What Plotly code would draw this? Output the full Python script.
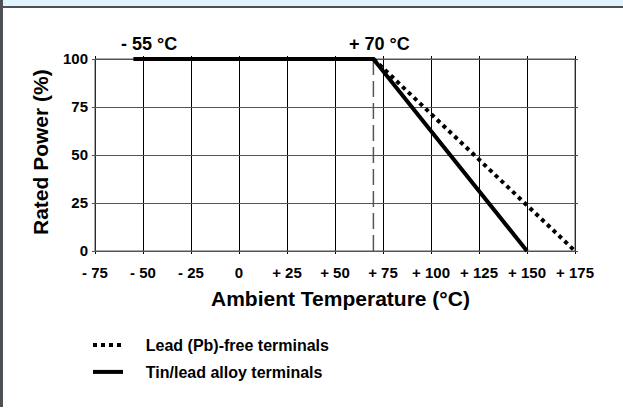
import plotly.graph_objects as go

# ---- data ----
tick_vals_x = [-75, -50, -25, 0, 25, 50, 75, 100, 125, 150, 175]
tick_text_x = ["- 75", "- 50", "- 25", "0", "+ 25", "+ 50", "+ 75", "+ 100", "+ 125", "+ 150", "+ 175"]
tick_vals_y = [0, 25, 50, 75, 100]
tick_text_y = ["0", "25", "50", "75", "100"]

temp_pbfree = [70, 175]
power_pbfree = [100, 0]
temp_snpb = [-55, 70, 150]
power_snpb = [100, 100, 0]
knee_temp = 70

W, H = 623, 408
L, R, T, B = 92, 45, 56, 154
pad_x = 1.5625
pad_y = 1.5625
FONT = "Liberation Sans, Arial, sans-serif"
NB = "\u00a0" * 4

def px(xp):
    return (xp - L) / (W - L - R)

def py(yp):
    return (H - B - yp) / (H - T - B)

fig = go.Figure()
fig.add_trace(go.Scatter(
    x=temp_pbfree, y=power_pbfree, mode="lines",
    line=dict(color="black", width=4, dash="dot"),
    name=NB + "<b>Lead (Pb)-free terminals</b>", legend="legend",
))
fig.add_trace(go.Scatter(
    x=temp_snpb, y=power_snpb, mode="lines",
    line=dict(color="black", width=4),
    name=NB + "<b>Tin/lead alloy terminals</b>", legend="legend2",
))

shapes = [
    dict(type="rect", xref="x", yref="y", x0=-75, x1=175, y0=0, y1=100,
         line=dict(color="#555555", width=1), layer="between"),
    dict(type="line", xref="x", yref="y", x0=knee_temp, x1=knee_temp, y0=0, y1=100,
         line=dict(color="#555555", width=1.5, dash="16px,6px"), layer="between"),
    dict(type="rect", xref="paper", yref="paper", x0=px(0), x1=px(W), y0=py(0), y1=py(6),
         fillcolor="#e1f3fd", line=dict(width=0), layer="above"),
    dict(type="rect", xref="paper", yref="paper", x0=px(0), x1=px(W), y0=py(6), y1=py(8),
         fillcolor="#4d5055", line=dict(width=0), layer="above"),
    dict(type="rect", xref="paper", yref="paper", x0=px(0), x1=px(3), y0=py(0), y1=py(407),
         fillcolor="#4d5055", line=dict(width=0), layer="above"),
]

annotations = [
    dict(text="<b>- 55 °C</b>", xref="paper", yref="paper", x=px(148.5), y=py(44),
         xanchor="center", yanchor="middle", showarrow=False,
         font=dict(family=FONT, size=18, color="black")),
    dict(text="<b>+ 70 °C</b>", xref="paper", yref="paper", x=px(379), y=py(44),
         xanchor="center", yanchor="middle", showarrow=False,
         font=dict(family=FONT, size=18, color="black")),
    dict(text="<b>Rated Power (%)</b>", xref="paper", yref="paper", x=px(40), y=py(152),
         xanchor="center", yanchor="middle", textangle=-90, showarrow=False,
         font=dict(family=FONT, size=21, color="black")),
    dict(text="<b>Ambient Temperature (°C)</b>", xref="paper", yref="paper", x=px(340), y=py(298),
         xanchor="center", yanchor="middle", showarrow=False,
         font=dict(family=FONT, size=21, color="black")),
]

legend_common = dict(
    xanchor="left", yanchor="middle", bgcolor="rgba(0,0,0,0)", borderwidth=0,
    font=dict(family=FONT, size=16, color="black"), itemwidth=30,
)

fig.update_layout(
    width=W, height=H,
    margin=dict(l=L, r=R, t=T, b=B, autoexpand=False),
    paper_bgcolor="white", plot_bgcolor="white",
    shapes=shapes, annotations=annotations,
    showlegend=True,
    legend=dict(x=px(88), y=py(345), **legend_common),
    legend2=dict(x=px(88), y=py(372), **legend_common),
    font=dict(family=FONT, color="black"),
    xaxis=dict(
        range=[-75 - pad_x, 175 + pad_x], tickmode="array",
        tickvals=tick_vals_x, ticktext=[f"<b>{t}</b>" for t in tick_text_x],
        showgrid=True, gridcolor="black", gridwidth=1, zeroline=False,
        showline=False, ticks="", ticklabelstandoff=8,
        tickfont=dict(family=FONT, size=15, color="black"),
    ),
    yaxis=dict(
        range=[-pad_y, 100 + pad_y], tickmode="array",
        tickvals=tick_vals_y, ticktext=[f"<b>{t}</b>" for t in tick_text_y],
        showgrid=True, gridcolor="#555555", gridwidth=1, zeroline=False,
        showline=False, ticks="", ticklabelstandoff=3,
        tickfont=dict(family=FONT, size=15, color="black"),
    ),
)

fig.write_html("out.html", config={"displayModeBar": False},
               post_script="document.body.style.margin='0';")
